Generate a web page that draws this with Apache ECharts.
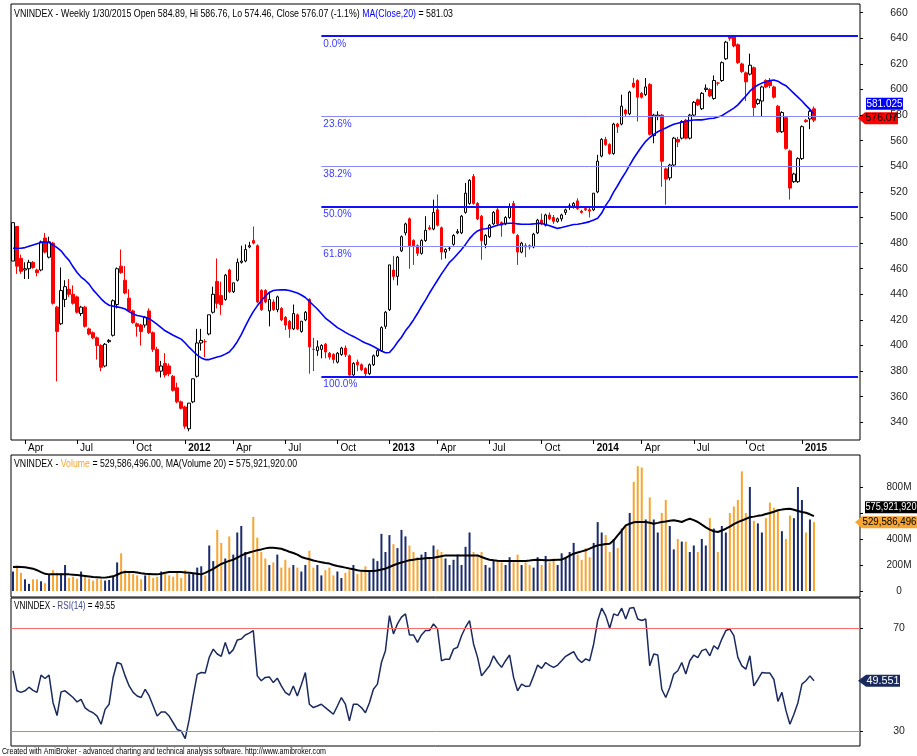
<!DOCTYPE html>
<html><head><meta charset="utf-8">
<script src="https://cdn.jsdelivr.net/npm/echarts@6/dist/echarts.min.js"></script>
<style>html,body{margin:0;padding:0;background:#fff}#c{width:917px;height:756px}</style>
</head><body><div id="c"></div>
<script>
// ---- weekly VNINDEX bars (Mar 2011 - Jan 2015) ----
const opens = [466,493,468,459,460,465,459,459,484,469,480,430,417,436,444,440,438,425,430,413,410,406,400,384,403,408,432,462,451,437,427,417,416,416,427,410,397,
380,386,384,376,367,356,352,335,356,376,402,403,409,426,450,439,436,459,442,451,465,466,477,482,478,443,443,427,434,428,429,422,419,413,424,411,420,436,397,396,397,401,
394,393,387,393,398,392,377,387,385,382,378,385,392,396,415,428,459,454,474,488,499,482,478,472,482,492,491,506,492,473,476,479,488,488,504,511,532,511,501,479,485,495,
506,496,495,500,511,486,473,478,478,477,488,498,494,502,500,497,499,504,509,509,513,505,507,506,506,520,548,561,557,550,573,573,584,581,605,607,597,596,604,564,579,580,
538,531,541,561,562,576,562,580,592,585,600,600,593,605,607,624,641,641,635,620,613,612,617,589,591,607,607,602,587,567,578,552,528,528,546,576,577,584.89];
const highs = [496,493,471,465,467,466,460,482,488,485,481,431,461,451,452,447,439,431,431,414,411,407,401,402,405,436,461,475,462,444,428,418,417,423,429,411,399,
388,394,386,377,371,357,353,355,374,413,413,405,424,446,468,450,456,460,449,468,478,479,481,493,479,444,444,442,436,439,430,423,420,432,425,419,427,437,406,404,401,402,
395,394,395,399,400,393,387,389,386,383,386,393,397,415,427,463,470,470,486,496,500,483,479,483,501,494,514,518,493,476,477,487,491,502,527,530,534,512,502,487,495,505,
508,497,501,511,513,487,481,480,479,488,499,503,503,504,502,500,503,507,511,512,515,506,508,508,519,549,562,563,558,574,574,596,585,599,609,608,598,609,605,581,583,581,
539,542,563,563,576,577,581,591,593,598,604,601,611,606,622,638,641.65,641.5,636,621,614,628,618,593,603,608,609,603,588,583,579,553,535,547,572,577,584,586.76];
const lows = [466,456,456,452,452,460,454,458,472,468,432,372,416,430,438,432,425,423,414,408,405,389,380,383,402,407,429,456,440,426,417,407,400,414,409,395,379,
375,375,376,364,355,350,335,333,355,375,396,391,408,425,429,424,435,441,441,450,464,465,476,479,433,427,433,415,427,426,419,412,406,412,412,410,419,378,380,392,390,390,
389,386,386,392,391,376.5,375.72,380,380,376,377,384,391,395,413,427,451,447,473,486,460,463,470,471,481,490,490,493,467,468,474,478,487,487,503,510,510,498,467,476,484,494,
494,485,494,499,487,463,472,469,475,476,487,494,493,498,495,496,497,502,506,507,506,503,505,500,505,519,547,556,549,549,566,572,579,580,601,575,593,595,564,558,576,524,
510,529,540,555,561,561,561,579,587,584,598,594,592,603,606,623,638,633,620,613,591,611,579,588,579,601,601,593,566,566,553,514,527,527,545,574,569,574.46];
const closes = [496,462,458,460,465,461,457,481,473,481,433,411,443,446,440,433,426,430,415,409,406,400,383,401,404,435,460,457,441,427,418,415,411,422,410,397,380,
384,377,378,365,356,351,337,355,374,402,404,403,424,440,433,432,455,442,449,465,466,475,478,480,434,428,434,436,428,438,420,416,413,425,413,419,426,399,397,399,400,395,
391,389,394,398,393,377,386,385,381,378,385,392,396,414,426,463,454,469,485,495,478,478,472,482,490,491,504,494,473,475,476,486,489,501,519,529,511,499,482,486,494,504,
495,494,500,508,488,473,480,477,477,487,498,495,502,499,497,499,502,506,509,511,507,504,506,505,519,544,561,557,550,573,571,587,581,598,602,594,594,602,565,580,580,544,
530,541,562,559,575,562,580,590,588,597,601,595,607,605,621,637,640,634,621,614,606,619,586,592,602,602,603,594,567,582,554,523,534,546,571,575,583,576.07];
const ma20 = [476,476,476,476.5,477.5,478.5,479.5,480.5,481,480.5,478.5,476.5,474,470,466.5,461.5,457,453.5,451,448,443.5,440,436.5,433.5,431.5,430.8,430.2,429.5,428.5,426.5,
424.6,423.5,422.8,422,421,418.8,416.5,414,411.5,409.8,408,406.5,405,402,398.5,395.5,392.5,390.3,389,389,390,391,391.8,393.3,395,398.5,403,408.5,415,421,
426.5,431,435,438.5,441.5,443,443.4,443.5,443.5,443,442,441,439.5,437.5,434.5,431.5,428.5,425,421.5,419,416.5,414,412.2,410.3,408.5,407,405.4,403.6,402,400.8,
399.2,397.5,395.7,394.3,394.5,398,402.5,406.5,411.5,415.5,420,425,430.5,435.5,441,446,451,456,460.5,465,468,471.5,475,479,483.5,487,489.5,490.8,491.2,491.8,
493,494,494.8,495.3,495.5,495.5,495,494.8,494.8,494.8,495,495.4,495.4,494.6,493.6,492.5,491.5,492.2,493,493.8,494.5,494.8,495.3,496,496.8,498,499.4,503.5,509.5,514,
520,525,530.5,535.5,541,546.3,551,555.5,559.5,562.5,565,567,568.5,570,571.5,572.8,573.6,574.4,575.2,575.8,576.2,576.3,576.3,576.8,577.3,577.5,578.5,579.5,581.5,583.5,
585.5,588,591.5,595,598.7,601.5,603.5,605,606,607,607.4,606.5,604.5,603,600,597,594,591,587.6,584.5,581.03];
// volume in millions of shares
const volumes = [150,180,140,90,55,90,90,75,60,130,160,140,135,200,100,110,95,150,120,95,80,95,90,80,85,110,220,290,160,150,
130,120,90,120,130,100,110,150,130,120,110,150,100,160,130,140,180,190,120,350,230,470,370,250,420,280,450,500,300,260,
570,410,300,250,200,220,280,180,240,180,200,180,150,200,310,180,200,120,160,180,120,150,100,140,160,200,130,150,190,160,
250,230,440,300,430,360,330,470,420,350,300,260,280,300,260,350,320,300,250,200,240,280,200,340,450,300,280,300,200,180,
240,230,220,200,260,220,280,200,220,200,180,260,200,270,220,250,200,290,260,300,370,280,240,330,260,370,530,450,430,300,
400,330,480,500,600,840,960,950,550,720,550,450,600,700,500,320,400,380,380,300,350,300,400,350,560,480,300,500,450,600,
650,700,920,600,800,540,520,450,560,680,640,620,460,400,580,560,800,700,450,550,529.586496];
const volMA20 = [185,186,185,182,177,172,160,145,132,128,128,128,128,128,128,126,123,120,116,112,108,106,104,103,107,113,125,140,146,146,
146,142,137,133,131,129,128,133,140,146,146,146,146,143,140,137,133,128,140,155,170,190,208,220,232,241,256,272,287,296,
305,313,320,328,333,332,329,325,314,302,292,280,262,252,244,235,228,222,216,211,200,192,186,180,173,167,160,155,154,154,
154,158,165,172,185,198,210,219,228,236,241,246,249,252,254,256,262,268,274,274,274,274,274,274,274,274,274,262,250,241,
236,233,231,231,231,231,231,231,231,234,238,241,239,237,236,238,240,241,255,272,287,296,305,313,326,340,351,356,361,364,
390,428,465,505,517,528,531,531,531,525,518,524,531,535,540,544,538,531,545,556,545,531,510,490,472,460,454,465,479,495,
515,530,542,555,567,572,578,583,592,600,610,621,626,630,633,625,615,608,602,590,575.92192];
const rsi14 = [53.4,45.6,45,45.6,47,45.8,45,51.7,50.4,51.7,41,36,
45.2,45.6,44.3,43,41.3,42.3,39,37.8,37.1,35.8,32.6,38.4,40.4,
50.8,56.6,56,51.4,47.5,45,43.6,43,46.2,43.6,39.7,35.8,
37.4,37.4,35.8,33.2,30.6,30,27,34.5,43.6,
52,52.7,52.5,58.6,61.8,59.9,59,64.4,59.9,61.6,65.3,65.7,67.3,68,69,51.4,
49.5,50.8,51,48.8,50.5,47.5,45,43.9,47.5,43.6,48,52.7,
40.4,39.1,39.7,40.4,39.1,37.8,36.5,39.7,43,40.4,33.9,40.4,40.4,39.1,37.1,41,46.2,48.2,56.6,61.2,74.8,67.7,71.6,74.2,75.5,67.3,
67.3,64.4,67.3,69,69,71.6,69.6,57.3,57.9,57.9,61.8,62.5,67,70.3,72.9,63.8,58.6,51.4,53.4,55.3,59.2,56.6,54.7,57.3,59.5,
50.8,45.6,48.2,47.3,47.5,51.4,55.6,54.3,56.6,55.5,54.7,55.6,57.3,59,59.9,60.8,58,56.6,58,57.3,63.8,
72.9,77.7,74.8,69.9,75.5,74.8,77.7,73.5,77.7,78,73.5,72.9,73.5,55.3,59.9,59.5,46.2,43,46.9,52.1,53.4,56.6,52.1,57.3,
59.5,58.5,61.2,61.8,59.2,63.1,61.8,65.7,69,69.6,67,58.6,55.3,54,59.2,47.5,50,52.7,52.5,52.5,50,41.5,45,38,32.6,36.5,41,48.2,49.5,51.4,49.55];

// fibonacci retracement
const fibLevels = [641.65, 578.89, 540.07, 508.69, 477.31, 375.72];
const fibLabels = ['0.0%', '23.6%', '38.2%', '50.0%', '61.8%', '100.0%'];
const fibStartBar = 77;
// axis ticks
const priceTicks = [340,360,380,400,420,440,460,480,500,520,540,560,580,600,620,640,660];
const volTickValues = [0,200,400,600,800];
const volLabelValues = [0,200,400,800];
const rsiTicks = [30,70];
// calendar of weekly bars
const firstWeek = [2011, 2, 11];
const skippedWeeks = ['2012-01-27', '2013-02-15', '2014-01-31'];
const weekDateOverrides = {'2015-01-02': '2014-12-31'};
const monthAbbr = ['Jan','Feb','Mar','Apr','May','Jun','Jul','Aug','Sep','Oct','Nov','Dec'];
const lastValues = {ma: 581.025, close: 576.07, volMA: 575921920, vol: 529586496, rsi: 49.551};
// header texts
const headerPrice = [['VNINDEX - Weekly 1/30/2015 Open 584.89, Hi 586.76, Lo 574.46, Close 576.07 (-1.1%) ', '#000'], ['MA(Close,20)', '#0000ff'], [' = 581.03', '#000']];
const headerVol = [['VNINDEX - ', '#000'], ['Volume', '#f7a531'], [' = 529,586,496.00, MA(Volume 20) = 575,921,920.00', '#000']];
const headerRsi = [['VNINDEX - ', '#000'], ['RSI(14)', '#3a4a8a'], [' = 49.55', '#000']];
const footerText = [['Created with AmiBroker - advanced charting and technical analysis software. http://www.amibroker.com', '#000']];

const N = closes.length;
const dates = [];
let t = Date.UTC(firstWeek[0], firstWeek[1], firstWeek[2]);
while (dates.length < N) {
  const s = new Date(t).toISOString().slice(0, 10);
  if (!skippedWeeks.includes(s)) dates.push(weekDateOverrides[s] || s);
  t += 7 * 864e5;
}
const PAD = 11;
const cats = dates.slice();
for (let i = 0; i < PAD; i++) cats.push('pad' + i);
const tickIdx = new Set();
for (let i = 1; i < N; i++) {
  const m = +dates[i].slice(5, 7) - 1, pm = +dates[i - 1].slice(5, 7) - 1;
  if (m !== pm && m % 3 === 0) tickIdx.add(i);
}

const NARROW = "'Liberation Sans Narrow','Arial Narrow','Liberation Sans',Arial,sans-serif";
const SANS = "'Liberation Sans',Arial,sans-serif";
const NAVY = '#1b2b6b', ORANGE = '#f7a531', RED = '#ff0000';

const candleData = closes.map((c, i) => [opens[i], c, lows[i], highs[i]]);
const isUp = closes.map((c, i) => c > opens[i] || (c === opens[i] && i > 0 && c >= closes[i - 1]));

const fibLines = [];
fibLevels.forEach((v, k) => {
  const heavy = k === 0 || k === 3 || k === 5;
  const ls = {color: heavy ? '#1010ff' : '#8888ff', width: heavy ? 2 : 1, type: 'solid'};
  fibLines.push([
    {coord: [fibStartBar, v], lineStyle: ls,
     label: {show: true, position: 'insideStartBottom', formatter: fibLabels[k], color: '#3a3aff', fontSize: 10, fontFamily: SANS, distance: [2, 3]}},
    {coord: [cats.length - 1, v]}
  ]);
  fibLines.push([
    {coord: [fibStartBar, v], lineStyle: {opacity: 0, width: 0},
     label: {show: true, position: 'insideEndBottom', formatter: v.toFixed(2), color: '#3a3aff', fontSize: 10, fontFamily: SANS, distance: [0, 3]}},
    {coord: [cats.length - 1, v]}
  ]);
});

const L = 11, R = 57;
const grids = [
  {left: L, right: R, top: 4, height: 436},
  {left: L, right: R, top: 455, height: 142},
  {left: L, right: R, top: 598, height: 148}
].map(g => Object.assign(g, {show: true, borderColor: '#000', borderWidth: 1, backgroundColor: 'transparent'}));

function xAxis(gi, labels) {
  return {
    type: 'category', gridIndex: gi, data: cats, boundaryGap: true,
    axisLine: {show: false},
    axisTick: labels ? {show: true, alignWithLabel: true, interval: (i) => tickIdx.has(i), length: 4, lineStyle: {color: '#000'}} : {show: false},
    axisLabel: labels ? {
      show: true, interval: (i) => tickIdx.has(i), align: 'left', margin: 3, padding: [0, 0, 0, 3],
      formatter: (val, i) => {
        const d = dates[i]; if (!d) return '';
        const m = +d.slice(5, 7) - 1;
        return m === 0 ? '{y|' + d.slice(0, 4) + '}' : '{m|' + monthAbbr[m] + '}';
      },
      rich: {y: {fontWeight: 'bold', fontSize: 10, fontFamily: SANS, color: '#000'}, m: {fontSize: 10, fontFamily: SANS, color: '#000'}}
    } : {show: false},
    splitLine: {show: false}
  };
}

const option = {
  animation: false,
  backgroundColor: '#fff',
  grid: grids,
  xAxis: [xAxis(0, true), xAxis(1, false), xAxis(2, false)],
  yAxis: [
    {type: 'value', gridIndex: 0, position: 'right', min: 326.2, max: 666.8, scale: true,
     axisLine: {show: false}, splitLine: {show: false},
     axisTick: {show: true, length: 3, customValues: priceTicks, lineStyle: {color: '#000'}},
     axisLabel: {show: true, customValues: priceTicks, margin: 39, align: 'center', fontSize: 10.5, fontFamily: SANS, color: '#222'}},
    {type: 'value', gridIndex: 1, position: 'right', min: -46, max: 1046,
     axisLine: {show: false}, splitLine: {show: false},
     axisTick: {show: true, length: 3, customValues: volTickValues, lineStyle: {color: '#000'}},
     axisLabel: {show: true, customValues: volLabelValues, margin: 39, align: 'center', fontSize: 10, fontFamily: SANS, color: '#222',
       formatter: v => v === 0 ? '0' : v + 'M'}},
    {type: 'value', gridIndex: 2, position: 'right', min: 24.17, max: 81.65,
     axisLine: {show: false}, splitLine: {show: false},
     axisTick: {show: true, length: 3, customValues: rsiTicks, lineStyle: {color: '#000'}},
     axisLabel: {show: true, customValues: rsiTicks, margin: 39, align: 'center', fontSize: 10.5, fontFamily: SANS, color: '#222'}}
  ],
  series: [
    {type: 'candlestick', name: 'VNINDEX', xAxisIndex: 0, yAxisIndex: 0, data: candleData, barWidth: 3,
     itemStyle: {color: '#ffffff', color0: RED, borderColor: '#000000', borderColor0: RED, borderWidth: 1},
     markLine: {silent: true, symbol: ['none', 'none'], animation: false, data: fibLines}},
    {type: 'line', name: 'MA20', xAxisIndex: 0, yAxisIndex: 0, data: ma20, showSymbol: false, symbol: 'none',
     lineStyle: {color: '#0000ff', width: 1.6}, z: 4},
    {type: 'bar', name: 'Volume', xAxisIndex: 1, yAxisIndex: 1, barWidth: 2,
     data: volumes.map((v, i) => ({value: v, itemStyle: {color: isUp[i] ? NAVY : ORANGE}}))},
    {type: 'line', name: 'VolMA', xAxisIndex: 1, yAxisIndex: 1, data: volMA20, showSymbol: false, symbol: 'none',
     lineStyle: {color: '#000', width: 2}, z: 4},
    {type: 'line', name: 'RSI', xAxisIndex: 2, yAxisIndex: 2, data: rsi14, showSymbol: false, symbol: 'none',
     lineStyle: {color: '#1b2a5e', width: 1.5},
     markLine: {silent: true, symbol: ['none', 'none'], label: {show: false}, lineStyle: {color: '#ff6a6a', width: 1, type: 'solid'},
       data: rsiTicks.map(v => ({yAxis: v}))}}
  ]
};

const chart = echarts.init(document.getElementById('c'));
chart.setOption(option);

// condensed text blocks (AmiBroker uses a narrow face): scale horizontally to the reference width
const mctx = document.createElement('canvas').getContext('2d');
function textBlock(parts, x, y, size, targetWidth) {
  const font = size + 'px ' + SANS;
  mctx.font = font;
  let cx = 0; const kids = [];
  parts.forEach(([s, col]) => {
    kids.push({type: 'text', x: cx, y: 0, style: {text: s, fill: col, font: font, verticalAlign: 'middle', align: 'left'}});
    cx += mctx.measureText(s).width;
  });
  return {type: 'group', x: x, y: y, scaleX: targetWidth / cx, children: kids, silent: true};
}

function tag(axis, value, text, fill, textColor, tipX, boxL, boxR, dy, arrow) {
  const yc = chart.convertToPixel({yAxisIndex: axis}, value) + dy;
  const h = 6;
  const pts = arrow ? [[tipX, yc], [boxL, yc - h], [boxR, yc - h], [boxR, yc + h], [boxL, yc + h]]
                    : [[boxL, yc - h], [boxR, yc - h], [boxR, yc + h], [boxL, yc + h]];
  mctx.font = '11px ' + SANS;
  const w = mctx.measureText(text).width;
  const sx = Math.min(1, (boxR - boxL - 1) / w);
  return {type: 'group', children: [
    {type: 'polygon', shape: {points: pts}, style: {fill: fill}},
    {type: 'group', x: (boxL + boxR) / 2, y: yc, scaleX: sx, children: [
      {type: 'text', x: 0, y: 0, style: {text: text, fill: textColor, font: '11px ' + SANS, align: 'center', verticalAlign: 'middle'}}]}
  ]};
}
chart.setOption({graphic: [
  textBlock(headerPrice, 14, 14, 11, 439),
  textBlock(headerVol, 14, 464, 10, 283),
  textBlock(headerRsi, 14, 606, 10, 101),
  textBlock(footerText, 2, 752, 9, 324),
  tag(0, lastValues.ma, '581.025', '#0000ff', '#fff', 0, 866, 903, -10, false),
  tag(0, lastValues.close, '576.07', '#ff0000', '#000', 858, 865, 898, -2, true),
  tag(1, lastValues.volMA / 1e6, '575,921,920', '#000', '#fff', 0, 865, 917, -9, false),
  tag(1, lastValues.vol / 1e6, '529,586,496', ORANGE, '#000', 855, 862, 917, 0, true),
  tag(2, lastValues.rsi, '49.551', '#1b2a5e', '#fff', 858, 866, 900, 0, true)
]});
</script>
</body></html>
